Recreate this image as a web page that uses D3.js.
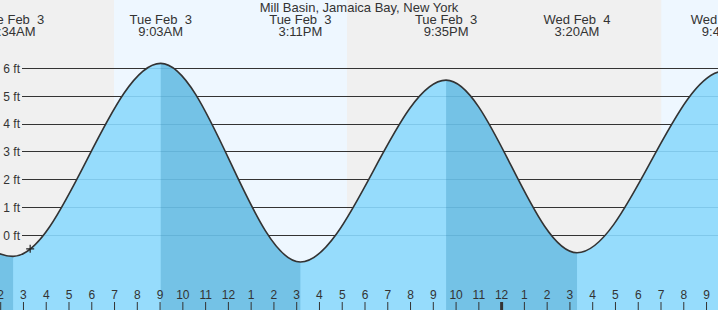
<!DOCTYPE html>
<html>
<head>
<meta charset="utf-8">
<script src="https://cdn.jsdelivr.net/npm/d3@7"></script>
<style>
  html, body { margin: 0; padding: 0; background: #fff; }
  svg { display: block; font-family: "Liberation Sans", Arial, sans-serif; }
  text { white-space: pre; }
</style>
</head>
<body>
<svg id="chart" width="718" height="310"></svg>
<script>
// ---- data ----
const stationName = "Mill Basin, Jamaica Bay, New York";
const extremeTimes = ["2026-02-02T20:38", "2026-02-03T02:34", "2026-02-03T09:03", "2026-02-03T15:11",
                      "2026-02-03T21:35", "2026-02-04T03:20", "2026-02-04T09:48", "2026-02-04T15:58"];
const extremeHeights = [5.6, -0.75, 6.18, -0.95, 5.58, -0.62, 5.9, -0.9];
const extremeTypes = ["H", "L", "H", "L", "H", "L", "H", "L"];
const labelDates = ["", "Tue Feb  3", "Tue Feb  3", "Tue Feb  3", "Tue Feb  3", "Wed Feb  4", "Wed Feb  4", ""];
const labelTimes = ["", "2:34AM", "9:03AM", "3:11PM", "9:35PM", "3:20AM", "9:48AM", ""];
const sunrises = ["2026-02-03T07:00", "2026-02-04T07:02"];
const sunsets = ["2026-02-03T17:14", "2026-02-04T17:16"];
const heightTicks = [0, 1, 2, 3, 4, 5, 6];
const markerTime = "2026-02-03T03:19";
const markerHeight = -0.48;
const viewStart = "2026-02-03T01:59:30";
const viewEnd = "2026-02-04T09:31:30";

// ---- setup ----
const W = 718, H = 310;
const parse = d3.timeParse("%Y-%m-%dT%H:%M");
const parseS = d3.timeParse("%Y-%m-%dT%H:%M:%S");
const svg = d3.select("#chart");

const x = d3.scaleTime().domain([parseS(viewStart), parseS(viewEnd)]).range([0, W]);
const y = d3.scaleLinear().domain([0, 6]).range([235.5, 68.4]);

const pts = extremeTimes.map((t, i) => ({ t: parse(t), h: extremeHeights[i], type: extremeTypes[i],
  date: labelDates[i], time: labelTimes[i] }));

// background
svg.append("rect").attr("width", W).attr("height", H).attr("fill", "#f0f0f0");
// daylight
svg.append("g").selectAll("rect").data(sunrises).join("rect")
  .attr("x", (d) => x(parse(d)))
  .attr("width", (d, i) => x(parse(sunsets[i])) - x(parse(d)))
  .attr("y", 0).attr("height", H).attr("fill", "#eef7ff");

// grid lines (behind fill)
const gridX0 = 22;
svg.append("g").selectAll("line").data(heightTicks).join("line")
  .attr("x1", gridX0).attr("x2", W)
  .attr("y1", (d) => Math.floor(y(d)) + 0.5).attr("y2", (d) => Math.floor(y(d)) + 0.5)
  .attr("stroke", "#333").attr("stroke-width", 1);

// y labels
svg.append("g").selectAll("text").data(heightTicks).join("text")
  .attr("x", 20).attr("y", (d) => y(d) + 4.3)
  .attr("text-anchor", "end").attr("font-size", 12).attr("fill", "#333")
  .text((d) => d + " ft");

// tide area
const area = d3.area().x((d) => x(d.t)).y0(H).y1((d) => y(d.h)).curve(d3.curveMonotoneX);
const line = d3.line().x((d) => x(d.t)).y((d) => y(d.h)).curve(d3.curveMonotoneX);

svg.append("clipPath").attr("id", "tideClip").append("path").attr("d", area(pts));

svg.append("path").attr("d", area(pts)).attr("fill", "#96dcfc");

// falling bands (high -> low)
const falling = [];
for (let i = 0; i < pts.length - 1; i++) {
  if (pts[i].type === "H") falling.push([pts[i].t, pts[i + 1].t]);
}
svg.append("g").attr("clip-path", "url(#tideClip)").selectAll("rect").data(falling).join("rect")
  .attr("x", (d) => x(d[0])).attr("width", (d) => x(d[1]) - x(d[0]))
  .attr("y", 0).attr("height", H).attr("fill", "#74c2e6");

// grid lines over fill
svg.append("g").attr("clip-path", "url(#tideClip)").selectAll("line").data(heightTicks).join("line")
  .attr("x1", gridX0).attr("x2", W)
  .attr("y1", (d) => Math.floor(y(d)) + 0.5).attr("y2", (d) => Math.floor(y(d)) + 0.5)
  .attr("stroke", "#1a6e9a").attr("stroke-opacity", 0.18).attr("stroke-width", 1);

// tide curve
svg.append("path").attr("d", line(pts)).attr("fill", "none")
  .attr("stroke", "#333").attr("stroke-width", 1.6);

// current marker
const mx = x(parse(markerTime)), my = y(markerHeight);
svg.append("path").attr("d", `M${mx - 4},${my}H${mx + 4}M${mx},${my - 4}V${my + 4}`)
  .attr("stroke", "#222").attr("stroke-width", 1.2);

// hour axis
const axis = d3.axisTop(x).ticks(d3.timeHour.every(1)).tickFormat(d3.timeFormat("%-I"))
  .tickSize(8).tickPadding(3);
const gx = svg.append("g").attr("transform", `translate(0,${H})`).call(axis);
gx.select(".domain").remove();
gx.selectAll(".tick line").attr("stroke", "#333")
  .attr("stroke-width", (d) => (d.getHours() === 0 ? 3 : 1));
gx.selectAll(".tick text").attr("fill", "#333").attr("font-size", 12)
  .attr("font-family", "Liberation Sans, Arial, sans-serif");

// extreme labels
const lab = svg.append("g").attr("fill", "#333").attr("font-size", 13).attr("text-anchor", "middle");
lab.selectAll("text.d").data(pts.filter((d) => d.date)).join("text").attr("class", "d")
  .attr("x", (d) => x(d.t)).attr("y", 24).text((d) => d.date);
lab.selectAll("text.t").data(pts.filter((d) => d.time)).join("text").attr("class", "t")
  .attr("x", (d) => x(d.t)).attr("y", 36).text((d) => d.time);

// title
svg.append("text").attr("x", W / 2).attr("y", 12).attr("text-anchor", "middle")
  .attr("font-size", 13).attr("fill", "#333").text(stationName);
</script>
</body>
</html>
